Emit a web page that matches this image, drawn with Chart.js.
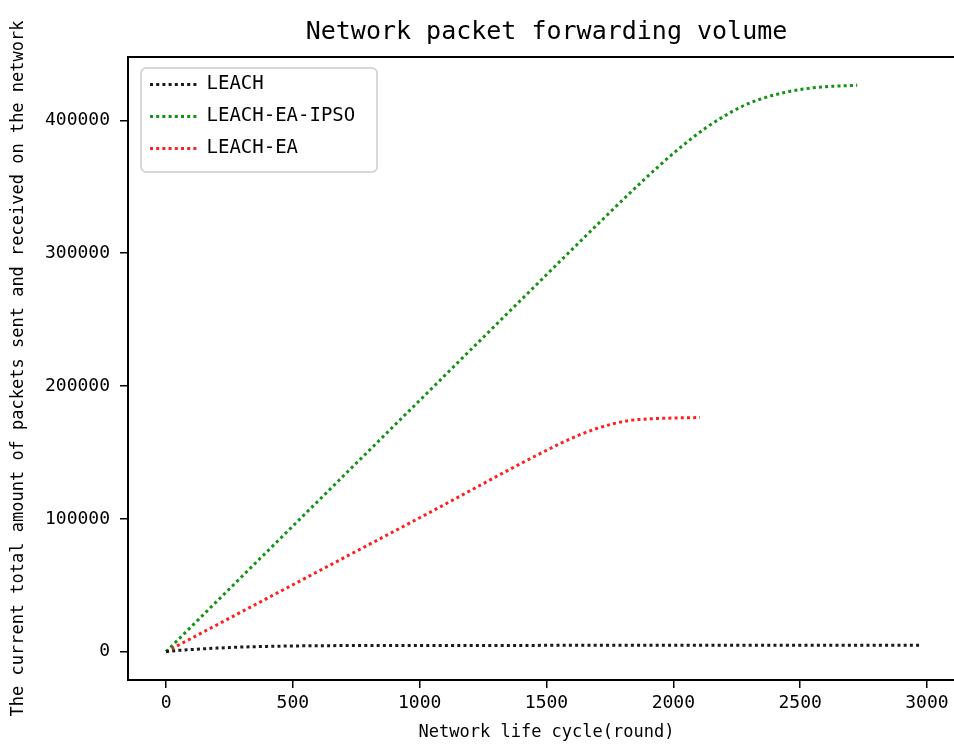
<!DOCTYPE html>
<html>
<head>
<meta charset="utf-8">
<title>Network packet forwarding volume</title>
<script src="https://cdn.jsdelivr.net/npm/chart.js@4.4.0/dist/chart.umd.min.js"></script>
<style>
  html, body { margin: 0; padding: 0; background: #fff; overflow: hidden; }
  #wrap { position: relative; width: 975px; height: 744px; }
</style>
</head>
<body>
<div id="wrap"><canvas id="forwarding"></canvas></div>
<script>
// tick labels
const roundTicks = [0, 500, 1000, 1500, 2000, 2500, 3000];
const packetTicks = [0, 100000, 200000, 300000, 400000];

// LEACH (black)
const leachRounds  = [0, 50, 100, 150, 200, 250, 300, 400, 500, 700, 1000, 1500, 2000, 2500, 2980];
const leachPackets = [0, 1000, 1600, 2200, 2700, 3100, 3500, 4000, 4300, 4600, 4700, 4750, 4780, 4800, 4800];

// LEACH-EA-IPSO (green)
const ipsoRounds  = [0, 500, 1000, 1500, 1720, 1877, 2009, 2127, 2206, 2285, 2364, 2443, 2521, 2600, 2725];
const ipsoPackets = [0, 94600, 189200, 283800, 325200, 354000, 376600, 394200, 403800, 411800, 417300, 421200, 423800, 425400, 426400];

// LEACH-EA (red)
const eaRounds  = [0, 500, 1000, 1556, 1621, 1690, 1759, 1832, 1911, 2000, 2105];
const eaPackets = [0, 50400, 100800, 156900, 162500, 167500, 171400, 174200, 175300, 175900, 176300];

const FONT = "'DejaVu Sans Mono', monospace";
const DOTS = [3, 3.2];
const pairs = (xs, ys) => xs.map((x, i) => ({ x: x, y: ys[i] }));

function series(label, xs, ys, color) {
  return {
    label: label,
    data: pairs(xs, ys),
    borderColor: color,
    backgroundColor: color,
    borderWidth: 3,
    borderDash: DOTS,
    pointRadius: 0,
    fill: false,
    cubicInterpolationMode: 'monotone'
  };
}

// axes box + legend frame, legend placed inside the plot like matplotlib
const frame = {
  id: 'frame',
  afterLayout(chart) {
    const a = chart.chartArea, lg = chart.legend;
    if (!lg) return;
    lg.left = a.left + 9;
    lg.top = a.top + 5;
    lg.right = a.right;
    lg.bottom = a.bottom;
  },
  beforeDraw(chart) {
    const a = chart.chartArea, ctx = chart.ctx;
    ctx.save();
    ctx.beginPath();
    ctx.roundRect(a.left + 13, a.top + 11, 236, 104, 5);
    ctx.fillStyle = '#fff';
    ctx.fill();
    ctx.strokeStyle = '#cccccc';
    ctx.lineWidth = 1.5;
    ctx.stroke();
    ctx.restore();
  },
  afterDraw(chart) {
    const a = chart.chartArea, ctx = chart.ctx;
    ctx.save();
    ctx.strokeStyle = '#000';
    ctx.lineWidth = 2;
    ctx.strokeRect(a.left, a.top, a.right - a.left, a.bottom - a.top);
    ctx.restore();
  }
};

new Chart(document.getElementById('forwarding'), {
  type: 'line',
  data: {
    datasets: [
      series('LEACH', leachRounds, leachPackets, '#1a1a1a'),
      series('LEACH-EA-IPSO', ipsoRounds, ipsoPackets, '#139213'),
      series('LEACH-EA', eaRounds, eaPackets, '#ff1f1f')
    ]
  },
  options: {
    responsive: true,
    maintainAspectRatio: false,
    animation: false,
    layout: { padding: { left: 0, right: 10, top: 0, bottom: 0 } },
    scales: {
      x: {
        type: 'linear',
        min: -150,
        max: 3150,
        afterBuildTicks: s => { s.ticks = roundTicks.map(v => ({ value: v })); },
        afterFit: s => { s.height = 64; },
        border: { display: false },
        grid: { display: true, drawOnChartArea: false, drawTicks: true, tickLength: 8, color: '#000', lineWidth: 1.5 },
        ticks: { color: '#000', font: { family: FONT, size: 18 }, padding: 5, maxRotation: 0, callback: v => String(v) },
        title: { display: true, text: 'Network life cycle(round)', color: '#000', font: { family: FONT, size: 17 }, padding: { top: 0, bottom: 1 } }
      },
      y: {
        type: 'linear',
        min: -21320,
        max: 447720,
        afterBuildTicks: s => { s.ticks = packetTicks.map(v => ({ value: v })); },
        afterFit: s => { s.width = 128; },
        border: { display: false },
        grid: { display: true, drawOnChartArea: false, drawTicks: true, tickLength: 8, color: '#000', lineWidth: 1.5 },
        ticks: { color: '#000', font: { family: FONT, size: 18 }, padding: 10, callback: v => String(v) },
        title: { display: true, text: 'The current total amount of packets sent and received on the network', color: '#000', font: { family: FONT, size: 17 }, padding: { top: 8, bottom: 0 } }
      }
    },
    plugins: {
      title: {
        display: true,
        fullSize: false,
        text: 'Network packet forwarding volume',
        color: '#000',
        font: { family: FONT, size: 25, weight: 'normal' },
        padding: { top: 17, bottom: 10 }
      },
      legend: {
        position: 'chartArea',
        align: 'start',
        labels: {
          usePointStyle: true,
          pointStyle: 'line',
          pointStyleWidth: 47,
          color: '#000',
          font: { family: FONT, size: 19 },
          padding: 13,
          generateLabels: chart => Chart.defaults.plugins.legend.labels.generateLabels(chart).map(item => {
            const ds = chart.data.datasets[item.datasetIndex];
            item.lineDash = ds.borderDash;
            item.lineWidth = ds.borderWidth;
            item.strokeStyle = ds.borderColor;
            return item;
          })
        }
      },
      tooltip: { enabled: false }
    }
  },
  plugins: [frame]
});
</script>
</body>
</html>
